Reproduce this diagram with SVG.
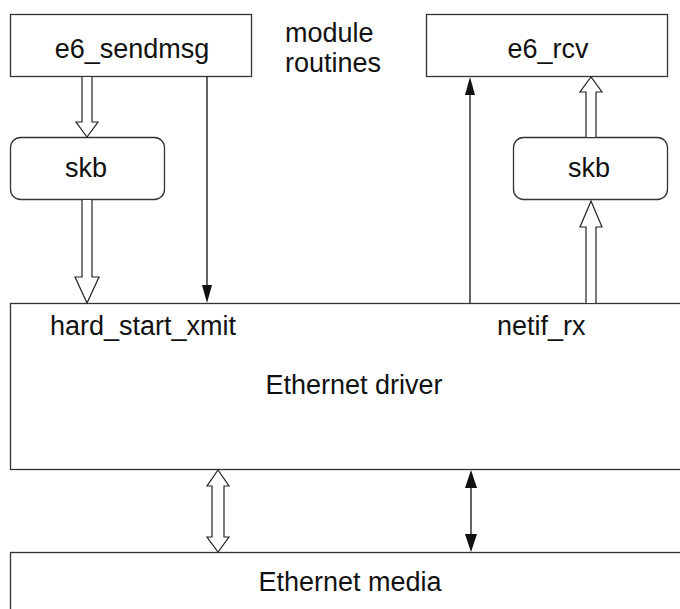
<svg xmlns="http://www.w3.org/2000/svg" width="680" height="609" viewBox="0 0 680 609">
<style>
.box{fill:#fff;stroke:#333;stroke-width:1.3}
.t{font-family:"Liberation Sans",Arial,sans-serif;font-size:27px;fill:#111}
.m{text-anchor:middle}
.ln{stroke:#111;stroke-width:1.3;fill:none}
.hol{fill:#fff;stroke:#222;stroke-width:1.2;stroke-linejoin:miter}
.sol{fill:#111;stroke:none}
</style>
<rect width="680" height="609" fill="#fff"/>
<g id="driver">
<rect class="box" x="10.5" y="303.5" width="680" height="166"/>
<text class="t" x="50" y="335">hard_start_xmit</text>
<text class="t" x="497" y="335">netif_rx</text>
<text class="t m" x="354" y="394">Ethernet driver</text>
</g>
<g id="media">
<rect class="box" x="10.5" y="552.5" width="680" height="70"/>
<text class="t m" x="350" y="591">Ethernet media</text>
</g>
<g id="e6_sendmsg">
<rect class="box" x="10.5" y="14.5" width="241" height="62"/>
<text class="t m" x="132" y="58">e6_sendmsg</text>
</g>
<g id="e6_rcv">
<rect class="box" x="426.5" y="14.5" width="241" height="62"/>
<text class="t m" x="548" y="58">e6_rcv</text>
</g>
<g id="module_routines">
<text class="t" x="285" y="42">module</text>
<text class="t" x="285" y="72">routines</text>
</g>
<g id="skb_left">
<rect class="box" x="10.5" y="137.5" width="154" height="62" rx="10"/>
<text class="t m" x="86" y="177">skb</text>
</g>
<g id="skb_right">
<rect class="box" x="513.5" y="137.5" width="154" height="62" rx="10"/>
<text class="t m" x="589" y="177">skb</text>
</g>
<g id="connectors">
<!-- hollow arrow sendmsg -> skb -->
<path class="hol" d="M82 77 V122 H76 L87 137 L98 122 H92 V77"/>
<!-- hollow arrow skb -> hard_start_xmit -->
<path class="hol" d="M82 200 V277 H75 L87 303 L99 277 H92 V200"/>
<!-- thin arrow sendmsg -> driver -->
<line class="ln" x1="207" y1="77" x2="207" y2="290"/>
<path class="sol" d="M202 285 L212 285 L207 303 Z"/>
<!-- thin arrow driver -> e6_rcv -->
<line class="ln" x1="470" y1="303" x2="470" y2="90"/>
<path class="sol" d="M465 95 L475 95 L470 77 Z"/>
<!-- hollow arrow skb right -> e6_rcv -->
<path class="hol" d="M586 137 V92 H580 L591 77 L602 92 H596 V137"/>
<!-- hollow arrow driver -> skb right -->
<path class="hol" d="M586 303 V227 H580 L591 201 L602 227 H596 V303"/>
<!-- hollow double arrow driver <-> media -->
<path class="hol" d="M218 470 L229 486 H224 V537 H229 L218 552 L207 537 H212 V486 H207 Z"/>
<!-- thin double arrow driver <-> media -->
<line class="ln" x1="471" y1="480" x2="471" y2="542"/>
<path class="sol" d="M471 470 L477 488 L465 488 Z"/>
<path class="sol" d="M471 552 L477 534 L465 534 Z"/>
</g>
</svg>
